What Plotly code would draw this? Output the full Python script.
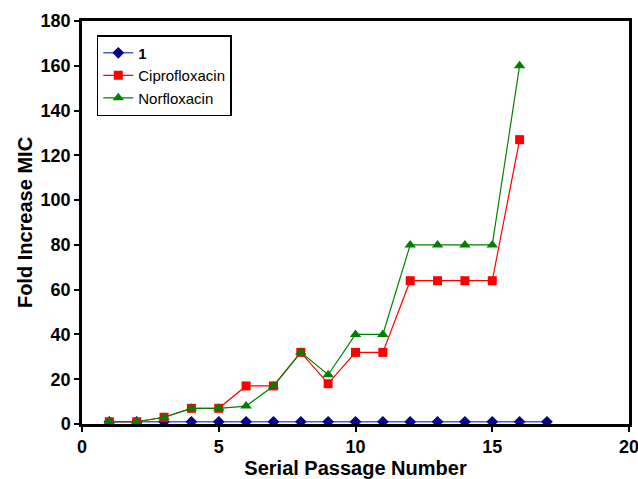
import plotly.graph_objects as go

passage_1 = list(range(1, 18))
fold_1 = [1] * 17
passage_drugs = list(range(1, 17))
fold_cipro = [1, 1, 3, 7, 7, 17, 17, 32, 18, 32, 32, 64, 64, 64, 64, 127]
fold_norflox = [1, 1, 3, 7, 7, 8, 17, 32, 22, 40, 40, 80, 80, 80, 80, 160]
x_ticks = [0, 5, 10, 15, 20]
y_ticks = [0, 20, 40, 60, 80, 100, 120, 140, 160, 180]

fig = go.Figure()
fig.add_trace(go.Scatter(x=passage_1, y=fold_1, mode="lines+markers", name="<b>1</b>",
                         line=dict(color="#4a5fd0", width=1.5),
                         marker=dict(symbol="diamond", size=9, color="#00008b")))
fig.add_trace(go.Scatter(x=passage_drugs, y=fold_cipro, mode="lines+markers", name="Ciprofloxacin",
                         line=dict(color="#ff0000", width=1.2),
                         marker=dict(symbol="square", size=9, color="#ff0000")))
fig.add_trace(go.Scatter(x=passage_drugs, y=fold_norflox, mode="lines+markers", name="Norfloxacin",
                         line=dict(color="#008000", width=1.2),
                         marker=dict(symbol="triangle-up", size=10, color="#008000")))

font_family = "Liberation Sans, Arial, sans-serif"
fig.update_layout(
    width=638, height=479,
    margin=dict(l=82, r=9, t=21, b=55),
    paper_bgcolor="white", plot_bgcolor="white",
    font=dict(family=font_family, color="black"),
    showlegend=True,
    legend=dict(x=0.027, y=0.965, xanchor="left", yanchor="top",
                bordercolor="black", borderwidth=1.5, bgcolor="white",
                font=dict(size=15, family=font_family), tracegroupgap=0,
                itemwidth=30),
    xaxis=dict(range=[0, 20], tickvals=x_ticks, showgrid=False, zeroline=False,
               showline=True, linecolor="black", linewidth=2.5, mirror=True,
               ticks="outside", ticklen=5, tickwidth=2, tickcolor="black",
               automargin=False, ticklabeloverflow="allow",
               tickfont=dict(size=18, family=font_family, weight="bold"),
               title=dict(text="<b>Serial Passage Number</b>", font=dict(size=20), standoff=11)),
    yaxis=dict(range=[0, 180], tickvals=y_ticks, showgrid=False, zeroline=False,
               showline=True, linecolor="black", linewidth=2.5, mirror=True,
               ticks="outside", ticklen=5, tickwidth=2, tickcolor="black",
               automargin=False, ticklabeloverflow="allow",
               tickfont=dict(size=18, family=font_family, weight="bold"),
               title=dict(text="<b>Fold Increase MIC</b>", font=dict(size=20), standoff=3)),
)
fig.write_html("out.html", config={"displayModeBar": False},
               post_script="document.body.style.margin='0px';document.body.style.padding='0px';")
